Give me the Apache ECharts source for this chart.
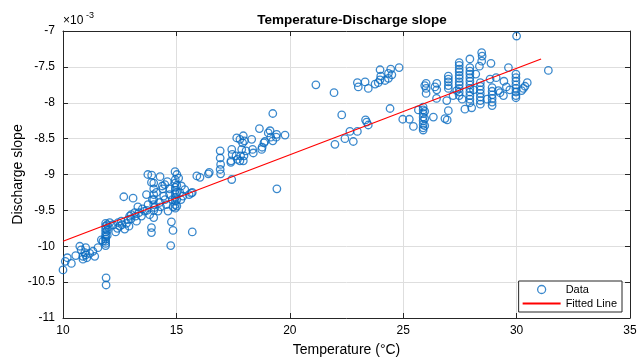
<!DOCTYPE html>
<html>
<head>
<meta charset="utf-8">
<script src="https://cdn.jsdelivr.net/npm/echarts@6/dist/echarts.min.js"></script>
<style>
  html, body { margin: 0; padding: 0; background: #fff; }
  #chart { width: 639px; height: 357px; }
</style>
</head>
<body>
<div id="chart"></div>
<script>
// temperature (°C) of each measured point
const temperature = [
  10.0, 10.1, 10.19, 10.37, 10.56, 10.74, 10.8, 10.88, 10.88, 10.96, 11.0, 11.0, 11.05, 11.18, 11.32, 11.4, 11.54, 11.69, 11.76,
  11.88, 11.88, 11.88, 11.88, 11.88, 11.88, 11.88, 11.88, 11.88, 11.88, 11.95, 11.95, 11.95, 11.9, 11.9,
  12.06, 12.32, 12.43, 12.5, 12.57, 12.68, 12.72, 12.87, 12.91, 12.94, 13.09, 13.01, 13.16, 13.24, 13.35, 13.46, 13.6, 13.68,
  13.75, 13.82, 13.9, 13.9, 13.94, 13.9, 14.04, 14.12, 14.19, 14.26, 14.38, 14.44, 14.56, 14.63, 14.75, 14.78, 14.85, 14.82,
  14.95, 14.95, 14.95, 14.95, 14.95, 14.95, 14.95, 14.95, 14.95,
  15.02, 15.02, 15.02, 15.02, 15.02,
  15.15, 15.22, 15.29, 15.56, 15.7, 15.7,
  14.0, 14.0, 14.0, 14.0, 14.0, 14.0, 14.0,
  13.74, 13.91, 14.28, 14.49, 14.94, 15.37, 15.66, 15.9,
  13.3, 13.5, 13.7, 14.3, 14.5, 14.7, 14.4, 14.6, 14.7, 15.1, 15.2, 14.85, 12.2, 12.6, 12.8, 13.0, 13.2, 12.4, 12.0,
  16.04, 16.41, 16.45, 16.93, 16.93, 16.95, 16.93, 16.95, 17.44, 17.44, 17.46, 17.41, 17.4, 17.66, 17.8, 17.95, 17.92, 17.88,
  17.83, 17.8, 17.63, 17.69, 18.0, 18.07, 17.98, 17.95, 18.32, 18.36, 18.39, 18.66, 18.76, 18.78, 18.86, 18.9, 19.05, 19.13,
  19.16, 19.25, 19.25, 19.42, 19.4, 19.79, 19.43,
  21.15, 21.95, 22.29, 21.99, 22.43, 22.65, 22.8, 22.98, 23.34, 23.39, 23.46, 22.98, 23.02, 23.32, 23.46, 23.76, 23.98, 24.01,
  23.98, 23.9, 24.2, 24.35, 24.35, 24.5, 24.45, 24.82, 24.42, 24.98, 25.27, 25.45, 25.67,
  25.88, 25.88, 25.88, 25.88, 25.88, 25.88, 25.88, 25.88, 25.95, 25.95, 25.95,
  26.01, 26.01, 26.01, 25.95, 26.33, 26.48, 26.48, 26.47, 26.4,
  26.84, 26.94, 26.99, 26.92, 26.99, 26.99, 26.99, 26.99, 26.99, 27.36,
  27.47, 27.47, 27.47, 27.47, 27.47, 27.47, 27.47, 27.47, 27.47, 27.47, 27.47,
  27.72, 27.94,
  27.94, 27.94, 27.94, 27.94, 27.94, 27.94, 27.94, 27.94, 27.94, 27.94, 27.94,
  28.02, 28.36, 28.46, 28.48, 28.46, 28.87,
  28.4, 28.4, 28.4, 28.4, 28.4, 28.4, 28.4,
  28.83, 28.92, 28.92, 28.92, 28.92, 28.92, 28.92,
  29.27, 29.42, 29.64, 29.44, 29.2, 29.55,
  29.97, 29.97, 29.97, 29.97, 29.97, 29.97, 29.97, 29.97,
  30.0, 30.22, 30.37, 30.47, 30.3, 31.4,
  27.2, 27.6, 28.1, 28.2, 28.7, 29.1, 29.7
]
// discharge slope, in units of 1e-3
const slope = [
  -10.33, -10.21, -10.16, -10.24, -10.13, -10.0, -10.05, -10.14, -10.18, -10.09, -10.02, -10.12, -10.16, -10.1, -10.07, -10.14, -10.02, -9.91, -9.93,
  -9.68, -9.72, -9.76, -9.8, -9.84, -9.87, -9.9, -9.93, -9.96, -9.99, -9.7, -9.78, -9.85, -10.44, -10.54,
  -9.67, -9.8, -9.67, -9.72, -9.65, -9.31, -9.76, -9.63, -9.72, -9.58, -9.33, -9.56, -9.53, -9.65, -9.53, -9.58, -9.51, -9.28,
  -9.42, -9.56, -9.74, -9.81, -9.35, -9.11, -9.46, -9.25, -9.51, -9.39, -9.16, -9.3, -9.42, -9.51, -9.99, -9.66, -9.78, -9.35,
  -9.07, -9.12, -9.18, -9.22, -9.27, -9.32, -9.37, -9.42, -9.47,
  -9.0, -9.15, -9.25, -9.35, -9.44,
  -9.25, -9.16, -9.3, -9.28, -9.25, -9.8,
  -9.12, -9.2, -9.28, -9.35, -9.42, -9.5, -9.6,
  -9.0, -9.01, -9.03, -9.14, -8.96, -9.21, -9.26, -9.02,
  -9.45, -9.48, -9.5, -9.45, -9.35, -9.28, -9.2, -9.1, -9.2, -9.05, -9.35, -9.45, -9.7, -9.7, -9.68, -9.62, -9.58, -9.75, -9.73,
  -9.04, -8.99, -8.97, -8.67, -8.77, -8.86, -8.93, -8.99, -9.07, -8.65, -8.72, -8.81, -8.83, -8.49, -8.51, -8.46, -8.56, -8.65,
  -8.74, -8.81, -8.74, -8.79, -8.53, -8.67, -8.74, -8.81, -8.51, -8.65, -8.7, -8.36, -8.65, -8.62, -8.56, -8.54, -8.42, -8.39,
  -8.48, -8.53, -8.15, -8.44, -8.48, -8.45, -9.2,
  -7.75, -7.86, -8.17, -8.58, -8.5, -8.4, -8.54, -8.4, -8.24, -8.27, -8.31, -7.72, -7.78, -7.71, -7.8, -7.74, -7.54, -7.63,
  -7.68, -7.72, -7.69, -7.66, -7.59, -7.61, -7.53, -7.51, -8.08, -8.23, -8.23, -8.33, -8.1,
  -8.06, -8.1, -8.15, -8.2, -8.25, -8.3, -8.35, -8.38, -8.12, -8.22, -8.32,
  -7.73, -7.8, -7.87, -7.76, -8.2, -7.73, -7.82, -7.94, -7.78,
  -8.22, -8.24, -8.11, -7.97, -7.63, -7.67, -7.71, -7.76, -7.8, -7.83,
  -7.44, -7.48, -7.53, -7.57, -7.62, -7.66, -7.71, -7.75, -7.8, -7.85, -7.9,
  -8.09, -7.39,
  -7.51, -7.56, -7.6, -7.65, -7.7, -7.75, -7.8, -7.85, -7.9, -7.95, -8.0,
  -8.07, -7.49, -7.3, -7.35, -7.42, -7.45,
  -7.72, -7.77, -7.82, -7.87, -7.92, -7.97, -8.02,
  -7.67, -7.79, -7.84, -7.89, -7.94, -7.99, -8.04,
  -7.86, -7.9, -7.51, -7.7, -7.83, -7.78,
  -7.6, -7.65, -7.7, -7.75, -7.8, -7.85, -7.9, -7.93,
  -7.07, -7.83, -7.77, -7.72, -7.8, -7.55,
  -7.9, -7.95, -7.82, -7.6, -7.95, -7.65, -7.82
]
// fitted line end points
const fitX = [10, 31.08]
const fitY = [-9.93, -7.39]

const xTicks = [10, 15, 20, 25, 30, 35]
const yTicks = [-11, -10.5, -10, -9.5, -9, -8.5, -8, -7.5, -7]

const font = '"Liberation Sans", Arial, Helvetica, sans-serif'
const axisColor = '#262626'
const dotColor = '#0a6cc0'

const initChart = () => {
  let myChart = echarts.init(document.getElementById('chart'))
  const axisCommon = {
    axisLine: { show: true, onZero: false, lineStyle: { color: axisColor, width: 1 } },
    axisTick: { show: true, inside: true, length: 5, lineStyle: { color: axisColor } },
    axisLabel: { color: '#000', fontFamily: font, fontSize: 12 },
    splitLine: { show: false }
  }
  let option = {
    animation: false,
    backgroundColor: '#fff',
    textStyle: { fontFamily: font },
    title: {
      text: 'Temperature-Discharge slope',
      left: 347,
      textAlign: 'center',
      top: 8,
      textStyle: { fontSize: 13.5, fontWeight: 'bold', color: '#000', fontFamily: font }
    },
    grid: { left: 63, right: 9, top: 31, bottom: 39, containLabel: false, outerBoundsMode: 'none' },
    legend: {
      orient: 'vertical',
      right: 17,
      bottom: 45,
      backgroundColor: '#fff',
      borderColor: axisColor,
      borderWidth: 1,
      borderRadius: 0,
      padding: [3, 5, 3, 3],
      itemGap: 3,
      itemWidth: 38,
      itemHeight: 8,
      align: 'left',
      textStyle: { fontSize: 11, color: '#000', fontFamily: font },
      data: [
        { name: 'Data', icon: 'circle', itemStyle: { color: 'transparent', borderColor: dotColor, borderWidth: 1.3 } },
        { name: 'Fitted Line', itemStyle: { color: 'transparent', borderColor: 'transparent', borderWidth: 0 } }
      ]
    },
    xAxis: [
      {
        type: 'value', min: 10, max: 35, interval: 5,
        ...axisCommon,
        axisLabel: { ...axisCommon.axisLabel, margin: 7, formatter: (v) => xTicks.includes(v) ? String(v) : '' },
        splitLine: { show: true, lineStyle: { color: '#dedede', width: 1 } },
        name: 'Temperature (°C)',
        nameLocation: 'middle',
        nameGap: 25,
        nameMoveOverlap: false,
        nameTextStyle: { fontSize: 14, color: '#000', fontFamily: font }
      },
      {
        type: 'value', position: 'top', min: 10, max: 35, interval: 5,
        ...axisCommon,
        axisLabel: { show: false }
      }
    ],
    yAxis: [
      {
        type: 'value', min: -11, max: -7, interval: 0.5,
        ...axisCommon,
        axisLabel: { ...axisCommon.axisLabel, margin: 8, formatter: (v) => yTicks.includes(v) ? String(v) : '' },
        splitLine: { show: true, lineStyle: { color: '#dedede', width: 1 } },
        name: 'Discharge slope',
        nameLocation: 'middle',
        nameGap: 38,
        nameMoveOverlap: false,
        nameTextStyle: { fontSize: 14, color: '#000', fontFamily: font }
      },
      {
        type: 'value', position: 'right', min: -11, max: -7, interval: 0.5,
        ...axisCommon,
        axisLabel: { show: false }
      }
    ],
    graphic: [
      { type: 'text', left: 63, top: 15, style: { text: '×10', fontSize: 12, fill: '#000', fontFamily: font } },
      { type: 'text', left: 86, top: 11, style: { text: '-3', fontSize: 9, fill: '#000', fontFamily: font } }
    ],
    series: [
      {
        name: 'Data',
        type: 'scatter',
        symbol: 'circle',
        symbolSize: 7.5,
        itemStyle: { color: 'transparent', borderColor: dotColor, borderWidth: 1.3 },
        data: temperature.map((t, i) => [t, slope[i]]),
        z: 3
      },
      {
        name: 'Fitted Line',
        type: 'line',
        showSymbol: false,
        symbol: 'none',
        lineStyle: { color: '#ff0000', width: 1.2 },
        itemStyle: { color: '#ff0000' },
        data: fitX.map((x, i) => [x, fitY[i]]),
        z: 4
      }
    ]
  }
  myChart.setOption(option)
}

initChart()
</script>
</body>
</html>
